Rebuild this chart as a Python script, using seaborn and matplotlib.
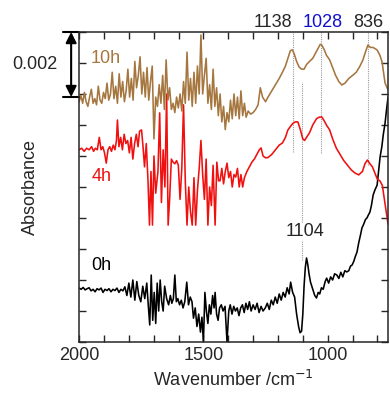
import numpy as np
import pandas as pd
import seaborn as sns
import matplotlib.pyplot as plt
from matplotlib.ticker import MultipleLocator
from matplotlib.transforms import blended_transform_factory

# spectra, absorbance in units of 1e-3 (curves are offset)
wn_10h = [2000, 1993, 1986, 1979, 1972, 1965, 1958, 1951, 1944, 1937, 1930, 1923, 1916, 1909, 1902,
          1895, 1888, 1881, 1874, 1867, 1860, 1853, 1846, 1839, 1832, 1825, 1818, 1811, 1804, 1797,
          1790, 1783, 1776, 1769, 1762, 1755, 1748, 1741, 1734, 1727, 1720, 1713, 1706, 1699, 1692,
          1685, 1678, 1671, 1664, 1657, 1650, 1643, 1636, 1629, 1622, 1615, 1608, 1601, 1594, 1587,
          1580, 1573, 1566, 1559, 1552, 1545, 1538, 1531, 1524, 1517, 1510, 1503, 1496, 1489, 1482,
          1475, 1468, 1461, 1454, 1447, 1440, 1433, 1426, 1419, 1412, 1405, 1398, 1391, 1384, 1377,
          1370, 1363, 1356, 1349, 1342, 1335, 1328, 1320, 1310, 1300, 1290, 1280, 1271, 1262, 1250,
          1240, 1225, 1210, 1195, 1182, 1170, 1160, 1150, 1142, 1135, 1125, 1115, 1105, 1095, 1085,
          1073, 1060, 1050, 1040, 1030, 1024, 1015, 1005, 992, 980, 968, 955, 943, 930, 915,
          898, 885, 870, 858, 848, 838, 828, 817, 801, 790, 781, 769, 757]
abs_10h = [7.75, 7.95, 7.7, 8.05, 7.75, 7.6, 7.9, 8.15, 7.7, 7.85, 7.65, 8.25, 7.8, 7.7, 8.05,
           7.85, 8.35, 7.8, 8.0, 8.7, 7.85, 8.25, 7.7, 8.65, 7.9, 8.4, 7.75, 8.1, 8.8, 7.9,
           8.5, 7.8, 9.05, 8.2, 8.6, 9.2, 8.0, 8.7, 7.9, 8.85, 7.8, 8.4, 8.9, 6.55, 7.9,
           7.6, 8.3, 7.7, 8.6, 7.5, 9.1, 7.8, 8.2, 7.5, 7.7, 7.4, 7.9, 7.55, 8.0, 7.45,
           8.4, 7.7, 9.35, 7.8, 8.5, 7.6, 8.7, 7.7, 8.9, 8.0, 9.9, 8.0, 8.6, 9.15, 7.7,
           8.3, 7.5, 8.8, 7.6, 8.2, 7.3, 8.0, 7.1, 7.6, 6.85, 7.4, 7.1, 7.8, 7.2, 8.0,
           7.3, 7.9, 7.2, 8.1, 7.3, 7.7, 7.25, 7.45, 7.35, 7.4, 7.5, 7.65, 8.2, 7.9, 7.75,
           7.9, 8.1, 8.3, 8.5, 8.7, 8.9, 9.15, 9.4, 9.42, 9.3, 9.05, 8.87, 8.8, 8.8, 8.95,
           9.05, 9.15, 9.3, 9.45, 9.6, 9.58, 9.45, 9.25, 9.1, 8.85, 8.6, 8.4, 8.29, 8.35, 8.5,
           8.61, 8.7, 8.9, 9.1, 9.35, 9.58, 9.5, 9.5, 9.42, 9.25, 9.03, 8.35, 8.13]

wn_4h = [2000, 1990, 1980, 1970, 1960, 1950, 1942, 1935, 1927, 1919, 1912, 1905, 1898, 1891, 1884,
         1877, 1870, 1863, 1856, 1850, 1846, 1840, 1833, 1826, 1819, 1812, 1805, 1798, 1791, 1784,
         1777, 1770, 1763, 1757, 1749, 1743, 1737, 1730, 1723, 1717, 1711, 1705, 1699, 1692, 1683,
         1676, 1669, 1662, 1655, 1648, 1642, 1636, 1629, 1622, 1615, 1608, 1601, 1594, 1587, 1580,
         1573, 1566, 1559, 1552, 1545, 1538, 1531, 1524, 1517, 1510, 1503, 1496, 1489, 1482, 1475,
         1468, 1461, 1453, 1446, 1439, 1433, 1426, 1419, 1412, 1405, 1398, 1391, 1384, 1377, 1370,
         1363, 1356, 1349, 1342, 1335, 1325, 1315, 1305, 1295, 1285, 1275, 1268, 1260, 1250, 1240,
         1225, 1210, 1195, 1182, 1170, 1160, 1150, 1140, 1130, 1120, 1110, 1100, 1093, 1085, 1073,
         1060, 1045, 1035, 1024, 1015, 1005, 992, 980, 965, 950, 935, 920, 905, 890, 875,
         860, 850, 840, 830, 820, 810, 800, 790, 780, 770, 757]
abs_4h = [6.2, 6.25, 6.15, 6.25, 6.2, 6.3, 6.15, 6.25, 6.2, 6.6, 6.2, 6.3, 6.1, 5.77, 6.2,
          6.3, 6.15, 6.35, 6.2, 6.5, 7.16, 6.3, 6.6, 6.2, 6.7, 6.4, 6.5, 6.1, 6.6, 5.9,
          6.4, 6.7, 6.3, 6.8, 6.84, 6.3, 5.65, 6.4, 5.2, 3.77, 5.5, 3.77, 6.0, 4.8, 5.5,
          7.39, 4.5, 6.2, 5.0, 8.0, 3.77, 4.6, 5.9, 5.8, 5.75, 5.85, 5.7, 4.6, 5.6, 7.65,
          5.2, 3.77, 5.0, 4.2, 3.77, 5.3, 3.77, 4.9, 5.6, 6.5, 5.4, 4.6, 5.9, 3.77, 5.0,
          4.4, 5.7, 3.77, 5.8, 5.2, 5.2, 5.6, 5.1, 5.5, 5.77, 5.3, 5.5, 5.0, 5.4, 5.32,
          5.6, 5.0, 5.4, 5.0, 5.3, 5.5, 5.65, 5.8, 5.9, 6.05, 6.2, 6.26, 6.0, 5.94, 5.95,
          6.05, 6.2, 6.35, 6.42, 6.6, 6.84, 6.95, 7.05, 7.1, 7.1, 6.85, 6.55, 6.5, 6.6, 6.75,
          7.0, 7.2, 7.25, 7.26, 7.15, 7.0, 6.84, 6.55, 6.25, 6.05, 5.85, 5.7, 5.55, 5.45, 5.39,
          5.5, 5.75, 5.87, 5.75, 5.65, 5.45, 5.25, 5.2, 5.05, 4.5, 3.8]

wn_0h = [2000, 1992, 1984, 1976, 1968, 1960, 1952, 1944, 1936, 1928, 1920, 1912, 1904, 1896, 1888,
         1880, 1872, 1864, 1856, 1848, 1840, 1832, 1824, 1816, 1808, 1800, 1792, 1784, 1776, 1768,
         1760, 1752, 1744, 1736, 1728, 1722, 1716, 1710, 1704, 1698, 1692, 1686, 1680, 1674, 1668,
         1662, 1656, 1648, 1640, 1633, 1627, 1621, 1615, 1609, 1603, 1596, 1589, 1582, 1575, 1567,
         1560, 1553, 1546, 1540, 1533, 1526, 1519, 1512, 1506, 1500, 1494, 1488, 1482, 1476, 1470,
         1463, 1457, 1453, 1447, 1441, 1435, 1428, 1421, 1413, 1405, 1398, 1392, 1385, 1378, 1371,
         1364, 1357, 1350, 1343, 1336, 1329, 1322, 1315, 1308, 1300, 1292, 1284, 1276, 1268, 1260,
         1251, 1243, 1235, 1227, 1219, 1211, 1203, 1195, 1187, 1179, 1171, 1163, 1155, 1149, 1141,
         1133, 1125, 1117, 1111, 1105, 1100, 1095, 1090, 1085, 1080, 1075, 1069, 1060, 1052, 1045,
         1038, 1032, 1025, 1018, 1010, 1004, 996, 988, 980, 972, 963, 955, 947, 939, 931,
         923, 915, 908, 902, 895, 889, 882, 875, 868, 862, 855, 848, 842, 836, 830,
         824, 817, 810, 801, 795, 789, 782, 776, 769, 763, 757]
abs_0h = [1.74, 1.7, 1.76, 1.68, 1.72, 1.75, 1.65, 1.7, 1.62, 1.72, 1.68, 1.74, 1.6, 1.7, 1.66,
          1.72, 1.62, 1.7, 1.66, 1.74, 1.6, 1.7, 1.65, 1.78, 1.5, 1.9, 1.45, 2.0, 1.35, 1.95,
          1.5, 1.3, 1.8, 1.4, 1.9, 1.2, 0.55, 2.16, 0.7, 1.6, 0.6, 1.9, 1.0, 2.0, 1.3,
          1.0, 1.8, 1.4, 1.2, 1.5, 1.25, 1.4, 2.16, 1.3, 1.4, 1.2, 1.35, 1.1, 1.3, 1.93,
          1.2, 1.45, 1.3, 0.77, 1.1, 0.5, 0.9, 0.32, 0.8, 0.0, 1.6, 1.0, 0.6, 1.2, 0.9,
          1.5, 1.1, 1.6, 0.9, 0.7, 1.1, 1.2, 1.0, 1.15, 0.0, 1.0, 1.2, 0.9, 1.15, 1.0,
          1.1, 0.85, 1.1, 1.2, 0.95, 1.25, 1.05, 1.3, 1.0, 1.2, 1.05, 1.25, 0.95, 1.15, 1.0,
          1.1, 1.25, 1.05, 1.35, 1.2, 1.45, 1.25, 1.55, 1.35, 1.6, 1.45, 1.75, 1.55, 1.93, 1.6,
          1.45, 0.9, 0.5, 0.3, 0.35, 0.9, 1.8, 2.4, 2.71, 2.5, 2.2, 1.93, 1.7, 1.5, 1.42,
          1.6, 1.55, 1.75, 1.7, 1.95, 2.06, 1.9, 2.1, 2.0, 2.2, 2.16, 2.05, 2.25, 2.1, 2.3,
          2.26, 2.3, 2.45, 2.48, 2.6, 2.75, 2.9, 3.2, 3.45, 3.68, 3.8, 3.95, 4.0, 4.1, 4.19,
          4.4, 4.74, 4.9, 5.06, 5.5, 5.97, 6.3, 6.7, 7.06, 7.5, 7.9]

times = ['0h', '4h', '10h']
colors = {'0h': 'black', '4h': '#F01010', '10h': '#A6763F'}
peaks = [1138, 1104, 1028, 836]

frames = []
for t, w, a in [('0h', wn_0h, abs_0h), ('4h', wn_4h, abs_4h), ('10h', wn_10h, abs_10h)]:
    frames.append(pd.DataFrame({'wn': w, 'absorbance': np.array(a) * 1e-3, 'time': t}))
df = pd.concat(frames, ignore_index=True)

sns.set_style('ticks')
plt.rcParams['font.family'] = ['Liberation Sans', 'DejaVu Sans']

fig = plt.figure(figsize=(3.9, 3.97), dpi=100)
ax = fig.add_axes([0.203, 0.1385, 0.792, 0.781])

sns.lineplot(data=df, x='wn', y='absorbance', hue='time', palette=colors, estimator=None,
             legend=False, lw=1.15, ax=ax)

# dotted guide lines at the peak positions
guide = {1138: (6.13, 10.0), 1104: (2.65, 8.4), 1028: (6.1, 10.0), 836: (5.7, 10.0)}
for p in peaks:
    lo, hi = guide[p]
    ax.plot([p, p], [lo * 1e-3, hi * 1e-3], color='#9a9a9a', ls=(0, (1, 1)), lw=0.8, zorder=1)

ax.set_xlim(2000, 757)
ax.set_ylim(0, 0.010)
ax.set_xticks([2000, 1500, 1000])
ax.xaxis.set_minor_locator(MultipleLocator(100))
ax.set_yticks(np.arange(0, 0.0101, 0.001))
ax.set_yticklabels([])
ax.tick_params(which='both', direction='in', top=True, right=True, length=5, width=1.0,
               labelsize=13)
for s in ax.spines.values():
    s.set_linewidth(1.1)

ax.set_xlabel('Wavenumber /cm$^{-1}$', fontsize=13)
ax.set_ylabel('Absorbance', fontsize=13)
ax.yaxis.set_label_coords(-0.13, 0.5)

# curve labels
ax.text(1895, 0.00916, '10h', color=colors['10h'], fontsize=13, ha='center', va='center')
ax.text(1911, 0.00535, '4h', color=colors['4h'], fontsize=13, ha='center', va='center')
ax.text(1911, 0.00248, '0h', color=colors['0h'], fontsize=13, ha='center', va='center')
ax.text(1093, 0.00355, '1104', fontsize=13, ha='center', va='center', zorder=3,
        bbox=dict(facecolor='white', edgecolor='none', pad=0.5))

# peak labels above the frame
ax.text(1219, 0.01032, '1138', fontsize=13, ha='center', va='center')
ax.text(1020, 0.01032, '1028', fontsize=13, ha='center', va='center', color='#1010D0')
ax.text(838, 0.01032, '836', fontsize=13, ha='center', va='center')

# scale bar of 0.002
trans = blended_transform_factory(ax.transAxes, ax.transData)
ax.annotate('', xy=(-0.026, 0.010), xytext=(-0.026, 0.0079), xycoords=trans, textcoords=trans,
            arrowprops=dict(arrowstyle='<|-|>', color='black', lw=1.5, mutation_scale=16,
                            shrinkA=0, shrinkB=0), annotation_clip=False)
for yv in [0.010, 0.0079]:
    ax.plot([-0.052, 0.0], [yv, yv], transform=trans, clip_on=False, color='black', lw=1.5)
ax.text(-0.071, 0.00895, '0.002', transform=trans, fontsize=13, ha='right', va='center')

fig.savefig('out.png', dpi=100)
